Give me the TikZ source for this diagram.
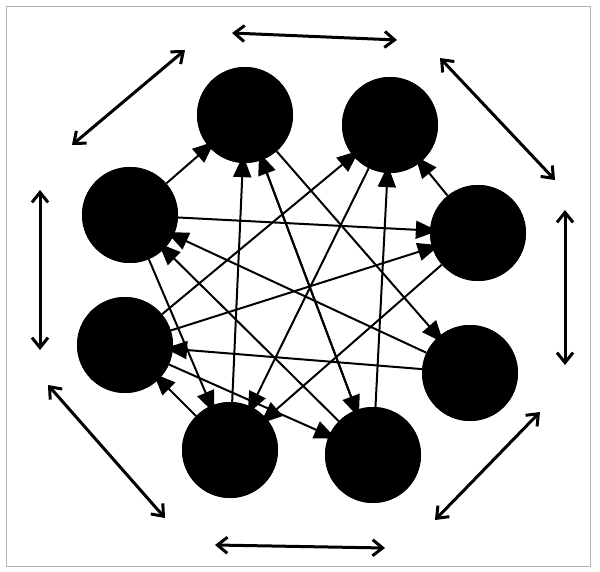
\documentclass[tikz,border=0pt]{standalone}
\usetikzlibrary{arrows.meta}
\begin{document}
\begin{tikzpicture}[x=1pt,y=-1pt,
  ball/.style={circle,fill=black,minimum size=96pt,inner sep=0pt},
  link/.style={line width=2pt,-{Triangle[length=22pt,width=18pt]},shorten >=-8pt},
  outer/.style={line width=3pt,{Straight Barb[length=10pt,width=16pt]}-{Straight Barb[length=10pt,width=16pt]}}]
\useasboundingbox (0,0) rectangle (600,572);
\draw[gray!60] (6,6) rectangle (590,566);
\node[ball] (a) at (245,115) {};
\node[ball] (b) at (390,125) {};
\node[ball] (c) at (130,215) {};
\node[ball] (d) at (478,233) {};
\node[ball] (e) at (125,345) {};
\node[ball] (f) at (470,373) {};
\node[ball] (g) at (230,450) {};
\node[ball] (h) at (373,455) {};
\foreach \s/\t in {a/h,g/a,e/b,b/g,c/d,f/c,h/c,e/d,d/g,a/f,c/a,h/b,g/e,e/h,f/e,d/b,h/a,c/g}
  \draw[link] (\s) -- (\t);
\foreach \s/\t in {a/b,b/d,d/f,f/h,h/g,g/e,e/c,c/a}
  \node[ball] at (\s) {};
\coordinate (o1) at (232,33); \coordinate (o2) at (397,40);
\coordinate (o3) at (72,145); \coordinate (o4) at (185,50);
\coordinate (o5) at (440,58); \coordinate (o6) at (555,180);
\coordinate (o7) at (40,190); \coordinate (o8) at (40,350);
\coordinate (o9) at (565,210); \coordinate (o10) at (565,365);
\coordinate (o11) at (48,385); \coordinate (o12) at (165,518);
\coordinate (o13) at (435,520); \coordinate (o14) at (540,412);
\coordinate (o15) at (215,545); \coordinate (o16) at (385,548);
\draw[outer] (o1) -- (o2);
\draw[outer] (o3) -- (o4);
\draw[outer] (o5) -- (o6);
\draw[outer] (o7) -- (o8);
\draw[outer] (o9) -- (o10);
\draw[outer] (o11) -- (o12);
\draw[outer] (o13) -- (o14);
\draw[outer] (o15) -- (o16);
\end{tikzpicture}
\end{document}
